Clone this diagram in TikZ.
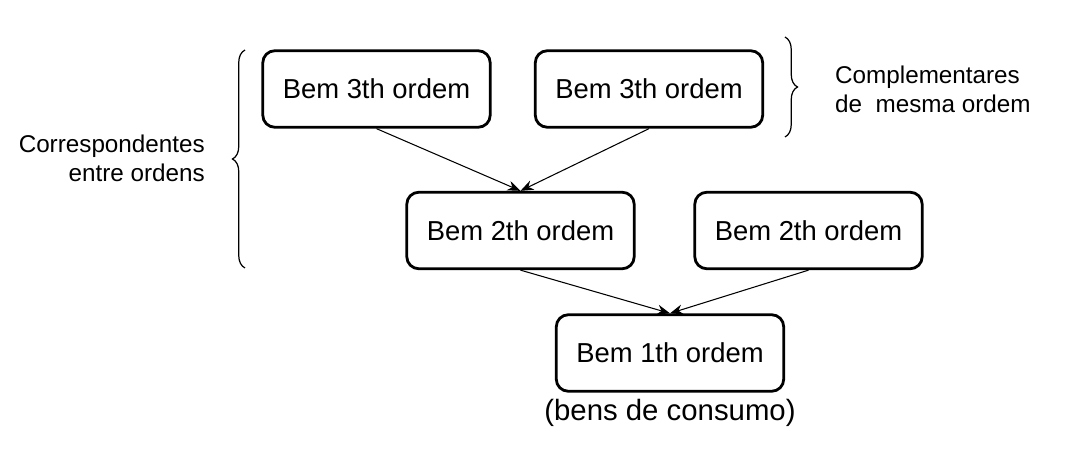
\documentclass[tikz,border=0pt]{standalone}
\usepackage{fontspec}
\setmainfont{Liberation Sans}
\usetikzlibrary{positioning,arrows.meta,decorations.pathreplacing}
\begin{document}
\begin{tikzpicture}[
    bem/.style={draw, line width=1.6pt, rounded corners=0.24cm,
      minimum height=1.53cm, inner xsep=0.4cm, font=\fontsize{15.6}{18}\selectfont},
    nota/.style={font=\fontsize{13.8}{16.5}\selectfont},
    chave/.style={decorate, decoration={brace, amplitude=0.25cm}, line width=0.7pt},
    seta/.style={-{Stealth[length=0.26cm, width=0.2cm]}, line width=0.6pt}
  ]
      \useasboundingbox (0,0) rectangle (21.52,-9.3);
      \draw
        (7.53,-1.78) node[bem] (3a){Bem 3th ordem}
        (12.98,-1.78) node[bem] (3b){Bem 3th ordem}
        (10.41,-4.61) node[bem] (2a){Bem 2th ordem}
        (16.17,-4.61) node[bem] (2b){Bem 2th ordem}
        (13.40,-7.06) node[bem] (1){Bem 1th ordem};
      \node[below=0.0cm of 1, font=\fontsize{16.7}{20}\selectfont] (cons){(bens de consumo)};
      \begin{scope}[seta]
        \draw (3a.south) to (2a.north);
        \draw (3b.south) to (2a.north);
        \draw (2a.south) to (1.north);
        \draw (2b.south) to (1.north);
      \end{scope}
      \coordinate (lt) at (4.9,-1.0);
      \coordinate (lb) at (4.9,-5.36);
      \coordinate (rt) at (15.7,-0.74);
      \coordinate (rb) at (15.7,-2.74);
      \draw[chave] (lb) to (lt);
      \draw[chave] (rt) to (rb);
      \node[nota, align=right, anchor=east] (corr) at (4.22,-3.16) {Correspondentes\\entre ordens};
      \node[nota, align=left, anchor=west] (comp) at (16.58,-1.78) {Complementares\\de\ \ mesma ordem};
    \end{tikzpicture}
\end{document}
